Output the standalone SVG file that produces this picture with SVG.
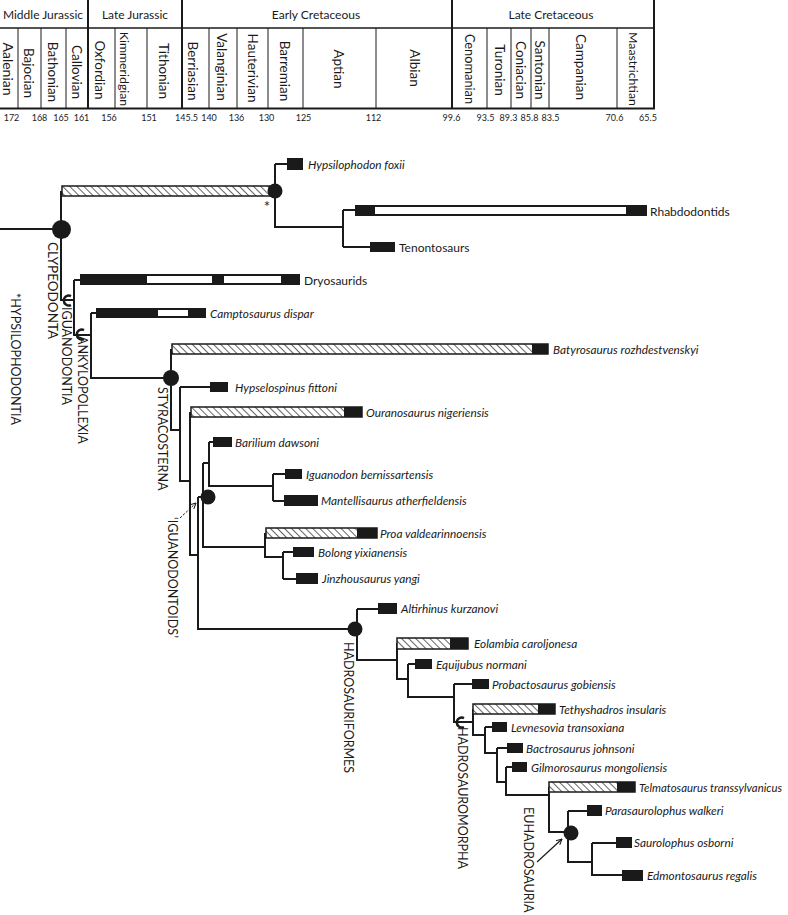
<svg xmlns="http://www.w3.org/2000/svg" width="788" height="915" viewBox="0 0 788 915">
<defs>
<style>
text{font-family:Lato,"Open Sans","Liberation Sans",sans-serif;fill:#1a1a1a}
.per{font-size:12px;text-anchor:middle;dominant-baseline:central}
.stg{font-size:13.5px;text-anchor:middle;dominant-baseline:central}
.num{font-size:9px;text-anchor:middle}
.tx{font-size:11.8px;font-style:italic;dominant-baseline:central}
.tr{font-size:12px;dominant-baseline:central}
.cl{font-size:12.5px;dominant-baseline:central}
.thin{stroke:#1a1a1a;stroke-width:1;fill:none}
.thick{stroke:#1a1a1a;stroke-width:2;fill:none}
.br{stroke:#1a1a1a;stroke-width:2;fill:none}
.blk{fill:#1a1a1a}
.wht{fill:#fff}
.ol{fill:none;stroke:#1a1a1a;stroke-width:1.5}
.hat{fill:url(#hatch)}
.nd{fill:#1a1a1a}
.stem{fill:none;stroke:#1a1a1a;stroke-width:2.5}
</style>
<pattern id="hatch" patternUnits="userSpaceOnUse" width="5" height="10" patternTransform="rotate(-45)">
<rect width="5" height="10" fill="#fff"/>
<line x1="2.5" y1="0" x2="2.5" y2="10" stroke="#555" stroke-width="0.9"/>
</pattern>
<marker id="ah" viewBox="0 0 10 10" refX="9" refY="5" markerWidth="7" markerHeight="7" orient="auto" markerUnits="userSpaceOnUse">
<path d="M1,1 L9,5 L1,9" fill="none" stroke="#1a1a1a" stroke-width="1.5"/>
</marker>
</defs>
<rect width="788" height="915" fill="#fff"/>

<g id="timescale">
<line class="thin" x1="0" y1="28" x2="654" y2="28" style="stroke-width:1.5"/>
<line class="thick" x1="0" y1="108.5" x2="655" y2="108.5"/>
<line class="thick" x1="88" y1="0" x2="88" y2="108"/>
<line class="thick" x1="182" y1="0" x2="182" y2="108"/>
<line class="thick" x1="452" y1="0" x2="452" y2="108"/>
<line class="thick" x1="654" y1="0" x2="654" y2="109"/>
<g class="thin">
<line x1="18" y1="28" x2="18" y2="108"/><line x1="41" y1="28" x2="41" y2="108"/>
<line x1="66" y1="28" x2="66" y2="108"/><line x1="115" y1="28" x2="115" y2="108"/>
<line x1="147" y1="28" x2="147" y2="108"/><line x1="209" y1="28" x2="209" y2="108"/>
<line x1="237" y1="28" x2="237" y2="108"/><line x1="268" y1="28" x2="268" y2="108"/>
<line x1="303" y1="28" x2="303" y2="108"/><line x1="376" y1="28" x2="376" y2="108"/>
<line x1="487" y1="28" x2="487" y2="108"/><line x1="511" y1="28" x2="511" y2="108"/>
<line x1="531" y1="28" x2="531" y2="108"/><line x1="549" y1="28" x2="549" y2="108"/>
<line x1="617" y1="28" x2="617" y2="108"/>
</g>
<text class="per" x="43" y="14">Middle Jurassic</text>
<text class="per" x="135" y="14">Late Jurassic</text>
<text class="per" x="316" y="14">Early Cretaceous</text>
<text class="per" x="551" y="14">Late Cretaceous</text>
<text class="stg" transform="translate(8,69) rotate(90)" style="font-size:14px">Aalenian</text>
<text class="stg" transform="translate(29,73) rotate(90)">Bajocian</text>
<text class="stg" transform="translate(53,72) rotate(90)">Bathonian</text>
<text class="stg" transform="translate(77,72) rotate(90)">Callovian</text>
<text class="stg" transform="translate(100,70) rotate(90)">Oxfordian</text>
<text class="stg" transform="translate(124,69) rotate(90)" style="font-size:12.3px">Kimmeridgian</text>
<text class="stg" transform="translate(164,71) rotate(90)">Tithonian</text>
<text class="stg" transform="translate(193,71) rotate(90)">Berriasian</text>
<text class="stg" transform="translate(222,67) rotate(90)">Valanginian</text>
<text class="stg" transform="translate(253,68) rotate(90)">Hauterivian</text>
<text class="stg" transform="translate(285,71) rotate(90)">Barremian</text>
<text class="stg" transform="translate(339,69) rotate(90)">Aptian</text>
<text class="stg" transform="translate(415,68) rotate(90)">Albian</text>
<text class="stg" transform="translate(470,69) rotate(90)" style="font-size:12.8px">Cenomanian</text>
<text class="stg" transform="translate(500,70) rotate(90)">Turonian</text>
<text class="stg" transform="translate(521,70) rotate(90)">Coniacian</text>
<text class="stg" transform="translate(540,70) rotate(90)">Santonian</text>
<text class="stg" transform="translate(581,67) rotate(90)">Campanian</text>
<text class="stg" transform="translate(633,69) rotate(90)" style="font-size:12.3px">Maastrichtian</text>
<text class="num" x="11.5" y="121">172</text>
<text class="num" x="39.5" y="121">168</text>
<text class="num" x="61" y="121">165</text>
<text class="num" x="81.5" y="121">161</text>
<text class="num" x="109" y="121">156</text>
<text class="num" x="149" y="121">151</text>
<text class="num" x="186.5" y="121">145.5</text>
<text class="num" x="209" y="121">140</text>
<text class="num" x="236.5" y="121">136</text>
<text class="num" x="266.5" y="121">130</text>
<text class="num" x="303.5" y="121">125</text>
<text class="num" x="373.5" y="121">112</text>
<text class="num" x="451.5" y="121">99.6</text>
<text class="num" x="485.5" y="121">93.5</text>
<text class="num" x="508.5" y="121">89.3</text>
<text class="num" x="529.5" y="121">85.8</text>
<text class="num" x="550.5" y="121">83.5</text>
<text class="num" x="614.5" y="121">70.6</text>
<text class="num" x="648" y="121">65.5</text>
</g>

<g id="connectors" class="br">
<path d="M0,229 H61 M61,191 V300 H74"/>
<path d="M275,164 V227 H343 M275,164 H287"/>
<path d="M343,210 V247 M343,210 H355 M343,247 H370"/>
<path d="M74,280 V335 H91 M74,280 H80"/>
<path d="M91,313 V378 H171 M91,313 H96"/>
<path d="M171,349 V430 H180"/>
<path d="M180,387 V481 H190 M180,387 H210"/>
<path d="M190,412 V555 H198"/>
<path d="M198,497 V629 H355 M198,497 H207"/>
<path d="M203,463 V547 H265 M203,463 H209"/>
<path d="M209,442 V486 H273 M209,442 H213"/>
<path d="M273,474 V501 M273,474 H285 M273,501 H284"/>
<path d="M265,533 V557 H283"/>
<path d="M283,552 V579 M283,552 H293 M283,579 H296"/>
<path d="M357,609 V660 H397 M357,609 H378"/>
<path d="M397,643 V679 H408"/>
<path d="M408,664 V697 H454 M408,664 H415"/>
<path d="M454,684 V722 H473 M454,684 H472"/>
<path d="M473,709 V735 H485"/>
<path d="M485,727 V753 H497 M485,727 H492"/>
<path d="M497,748 V782 H506 M497,748 H507"/>
<path d="M506,767 V795 H549 M506,767 H512"/>
<path d="M549,787 V832 H568"/>
<path d="M568,811 V862 H592 M568,811 H587"/>
<path d="M592,843 V875 H622 M592,843 H616"/>
<line x1="180" y1="518" x2="196" y2="503" stroke-width="1" stroke-dasharray="2.5,1.5" marker-end="url(#ah)"/>
<line x1="537" y1="862" x2="562" y2="839" stroke-width="1.2" marker-end="url(#ah)"/>
</g>

<g id="clade-nodes">
<g id="node-clypeodonta"><rect class="hat" x="62" y="186" width="208" height="10"/><rect class="ol" x="62" y="186" width="208" height="10"/><circle class="nd" cx="61.5" cy="229.5" r="9.5"/>
<text class="cl" transform="translate(53,242) rotate(90)" style="font-size:13.5px">CLYPEODONTA</text></g>
<g id="node-hypsilophodontia"><circle class="nd" cx="275" cy="191" r="7.5"/><text x="267" y="212" style="font-size:15px;text-anchor:middle">*</text>
<text class="cl" transform="translate(15,293) rotate(90)">*HYPSILOPHODONTIA</text></g>
<g id="node-iguanodontia"><path class="stem" d="M71,296 A5,5 0 1 0 71,305"/>
<text class="cl" transform="translate(66,307) rotate(90)">IGUANODONTIA</text></g>
<g id="node-ankylopollexia"><path class="stem" d="M84,330 A5,5 0 1 0 84,339"/>
<text class="cl" transform="translate(82,336) rotate(90)">ANKYLOPOLLEXIA</text></g>
<g id="node-styracosterna"><circle class="nd" cx="171" cy="378" r="8"/>
<text class="cl" transform="translate(162,387) rotate(90)">STYRACOSTERNA</text></g>
<g id="node-iguanodontoids"><circle class="nd" cx="208" cy="497" r="7.5"/>
<text class="cl" transform="translate(172,517) rotate(90)">‘IGUANODONTOIDS’</text></g>
<g id="node-hadrosauriformes"><circle class="nd" cx="355" cy="629" r="7.5"/>
<text class="cl" transform="translate(348,642) rotate(90)">HADROSAURIFORMES</text></g>
<g id="node-hadrosauromorpha"><path class="stem" d="M464,718 A5,5 0 1 0 464,727"/>
<text class="cl" transform="translate(462,727) rotate(90)">HADROSAUROMORPHA</text></g>
<g id="node-euhadrosauria"><circle class="nd" cx="571" cy="833" r="7.5"/>
<text class="cl" transform="translate(528,807) rotate(90)">EUHADROSAURIA</text></g>
</g>

<g id="taxa">
<g id="hypsilophodon"><rect class="blk" x="287" y="158" width="16" height="12"/><text class="tx" x="308" y="164">Hypsilophodon foxii</text></g>
<g id="rhabdodontids"><rect class="blk" x="355" y="205" width="292" height="11"/><rect class="wht" x="375" y="207" width="251" height="7"/><text class="tr" x="650" y="211">Rhabdodontids</text></g>
<g id="tenontosaurs"><rect class="blk" x="370" y="242" width="25" height="10"/><text class="tr" x="399" y="247">Tenontosaurs</text></g>
<g id="dryosaurids"><rect class="blk" x="80" y="274" width="220" height="11"/><rect class="wht" x="147" y="276" width="65" height="7"/><rect class="wht" x="224" y="276" width="57" height="7"/><text class="tr" x="304" y="280">Dryosaurids</text></g>
<g id="camptosaurus"><rect class="blk" x="96" y="308" width="110" height="10"/><rect class="wht" x="158" y="310" width="30" height="6"/><text class="tx" x="210" y="313">Camptosaurus dispar</text></g>
<g id="batyrosaurus"><rect class="hat" x="172" y="344" width="360" height="10"/><rect class="blk" x="532" y="344" width="16" height="10"/><rect class="ol" x="172" y="344" width="376" height="10"/><text class="tx" x="553" y="349">Batyrosaurus rozhdestvenskyi</text></g>
<g id="hypselospinus"><rect class="blk" x="210" y="382" width="18" height="10"/><text class="tx" x="235" y="387">Hypselospinus fittoni</text></g>
<g id="ouranosaurus"><rect class="hat" x="191" y="407" width="153" height="10"/><rect class="blk" x="344" y="407" width="18" height="10"/><rect class="ol" x="191" y="407" width="171" height="10"/><text class="tx" x="366" y="412">Ouranosaurus nigeriensis</text></g>
<g id="barilium"><rect class="blk" x="213" y="437" width="19" height="10"/><text class="tx" x="235" y="442">Barilium dawsoni</text></g>
<g id="iguanodon"><rect class="blk" x="285" y="469" width="17" height="10"/><text class="tx" x="306" y="474">Iguanodon bernissartensis</text></g>
<g id="mantellisaurus"><rect class="blk" x="284" y="495" width="34" height="11"/><text class="tx" x="321" y="500">Mantellisaurus atherfieldensis</text></g>
<g id="proa"><rect class="hat" x="266" y="528" width="91" height="10"/><rect class="blk" x="357" y="528" width="20" height="10"/><rect class="ol" x="266" y="528" width="111" height="10"/><text class="tx" x="380" y="533">Proa valdearinnoensis</text></g>
<g id="bolong"><rect class="blk" x="293" y="547" width="21" height="10"/><text class="tx" x="318" y="552">Bolong yixianensis</text></g>
<g id="jinzhousaurus"><rect class="blk" x="296" y="573" width="22" height="11"/><text class="tx" x="322" y="578">Jinzhousaurus yangi</text></g>
<g id="altirhinus"><rect class="blk" x="378" y="603" width="19" height="11"/><text class="tx" x="401" y="608">Altirhinus kurzanovi</text></g>
<g id="eolambia"><rect class="hat" x="397" y="638" width="53" height="11"/><rect class="blk" x="450" y="638" width="18" height="11"/><rect class="ol" x="397" y="638" width="71" height="11"/><text class="tx" x="474" y="643">Eolambia caroljonesa</text></g>
<g id="equijubus"><rect class="blk" x="415" y="659" width="17" height="10"/><text class="tx" x="436" y="664">Equijubus normani</text></g>
<g id="probactosaurus"><rect class="blk" x="472" y="679" width="17" height="10"/><text class="tx" x="492" y="684">Probactosaurus gobiensis</text></g>
<g id="tethyshadros"><rect class="hat" x="473" y="704" width="65" height="10"/><rect class="blk" x="538" y="704" width="17" height="10"/><rect class="ol" x="473" y="704" width="82" height="10"/><text class="tx" x="559" y="709">Tethyshadros insularis</text></g>
<g id="levnesovia"><rect class="blk" x="492" y="722" width="15" height="10"/><text class="tx" x="511" y="727">Levnesovia transoxiana</text></g>
<g id="bactrosaurus"><rect class="blk" x="507" y="743" width="16" height="10"/><text class="tx" x="526" y="748">Bactrosaurus johnsoni</text></g>
<g id="gilmorosaurus"><rect class="blk" x="512" y="762" width="15" height="10"/><text class="tx" x="531" y="767">Gilmorosaurus mongoliensis</text></g>
<g id="telmatosaurus"><rect class="hat" x="549" y="782" width="68" height="10"/><rect class="blk" x="617" y="782" width="18" height="10"/><rect class="ol" x="549" y="782" width="86" height="10"/><text class="tx" x="639" y="787" style="font-size:11.4px">Telmatosaurus transsylvanicus</text></g>
<g id="parasaurolophus"><rect class="blk" x="587" y="805" width="15" height="11"/><text class="tx" x="605" y="810">Parasaurolophus walkeri</text></g>
<g id="saurolophus"><rect class="blk" x="616" y="837" width="16" height="11"/><text class="tx" x="634" y="842">Saurolophus osborni</text></g>
<g id="edmontosaurus"><rect class="blk" x="622" y="870" width="21" height="11"/><text class="tx" x="647" y="875">Edmontosaurus regalis</text></g>
</g>
</svg>
